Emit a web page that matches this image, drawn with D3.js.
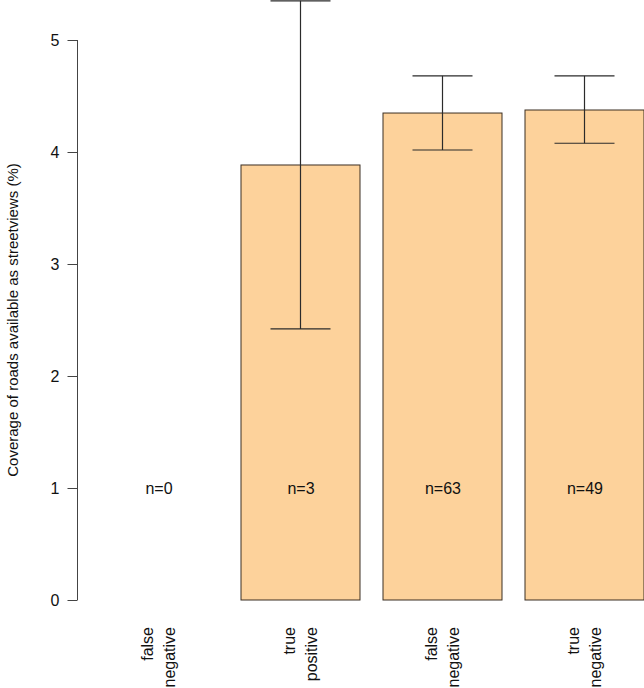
<!DOCTYPE html>
<html><head><meta charset="utf-8">
<script src="https://cdn.jsdelivr.net/npm/d3@7"></script>
<style>body{margin:0;background:#fff}svg{display:block}</style>
</head><body>
<script>
const categories = ["false\nnegative", "true\npositive", "false\nnegative", "true\nnegative"];
const means = [null, 3.884, 4.348, 4.375];
const lower = [null, 2.42, 4.018, 4.078];
const upper = [null, 5.35, 4.68, 4.68];
const counts = ["n=0", "n=3", "n=63", "n=49"];
const yTicks = [0, 1, 2, 3, 4, 5];

const W = 644, H = 688;
const FONT = "'Liberation Sans', Arial, Helvetica, sans-serif";
const svg = d3.select("body").append("svg").attr("width", W).attr("height", H)
  .style("font-family", FONT);

const idx = d3.range(categories.length);
const x = d3.scaleBand().domain(idx).range([87, 655]).paddingInner(0.162).paddingOuter(0.081);
const y = d3.scaleLinear().domain([0, 5]).range([600, 40]);

// bars
idx.forEach(i => {
  if (means[i] == null) return;
  svg.append("rect")
    .attr("x", x(i) + 0.5).attr("y", y(means[i]))
    .attr("width", x.bandwidth()).attr("height", y(0) - y(means[i]))
    .attr("fill", "#FDD29B").attr("stroke", "#3b2e22").attr("stroke-width", 1);
});

// error bars
idx.forEach(i => {
  if (means[i] == null) return;
  const cx = x(i) + x.bandwidth() / 2 + 0.5;
  const hw = 30;
  const g = svg.append("g").attr("stroke", "#2b2b2b").attr("stroke-width", 1.2).attr("fill", "none");
  g.append("line").attr("x1", cx).attr("x2", cx).attr("y1", y(lower[i])).attr("y2", y(upper[i]));
  g.append("line").attr("x1", cx - hw).attr("x2", cx + hw).attr("y1", y(lower[i])).attr("y2", y(lower[i]));
  g.append("line").attr("x1", cx - hw).attr("x2", cx + hw).attr("y1", y(upper[i])).attr("y2", y(upper[i]));
});

// n labels
idx.forEach(i => {
  svg.append("text").attr("x", x(i) + x.bandwidth() / 2 + 1).attr("y", y(1))
    .attr("dy", "0.36em").attr("text-anchor", "middle")
    .attr("font-size", 16).attr("fill", "#111").text(counts[i]);
});

// y axis
const yAxis = d3.axisLeft(y).tickValues(yTicks).tickSize(10).tickPadding(8).tickFormat(d3.format("d"));
const ga = svg.append("g").attr("transform", "translate(77.5,0)").call(yAxis)
  .attr("font-family", FONT).attr("font-size", 16);
ga.select(".domain").attr("stroke", "#444").attr("d", `M0,${y(0)}V${y(5)}`);
ga.selectAll(".tick line").attr("stroke", "#444");
ga.selectAll(".tick text").attr("fill", "#111");

// y label
svg.append("text").attr("transform", `translate(13,${(y(0) + y(5)) / 2}) rotate(-90)`)
  .attr("text-anchor", "middle").attr("dy", "0.35em").attr("font-size", 15).attr("fill", "#111")
  .text("Coverage of roads available as streetviews (%)");

// x labels (rotated, two lines)
idx.forEach(i => {
  const cx = x(i) + x.bandwidth() / 2;
  const lines = categories[i].split("\n");
  const t = svg.append("text").attr("transform", `translate(${cx},627) rotate(-90)`)
    .attr("text-anchor", "end").attr("font-size", 16).attr("fill", "#111");
  lines.forEach((l, k) => {
    t.append("tspan").attr("x", 0).attr("y", (k - (lines.length - 1) / 2) * 22 + 6).text(l);
  });
});
</script>
</body></html>
